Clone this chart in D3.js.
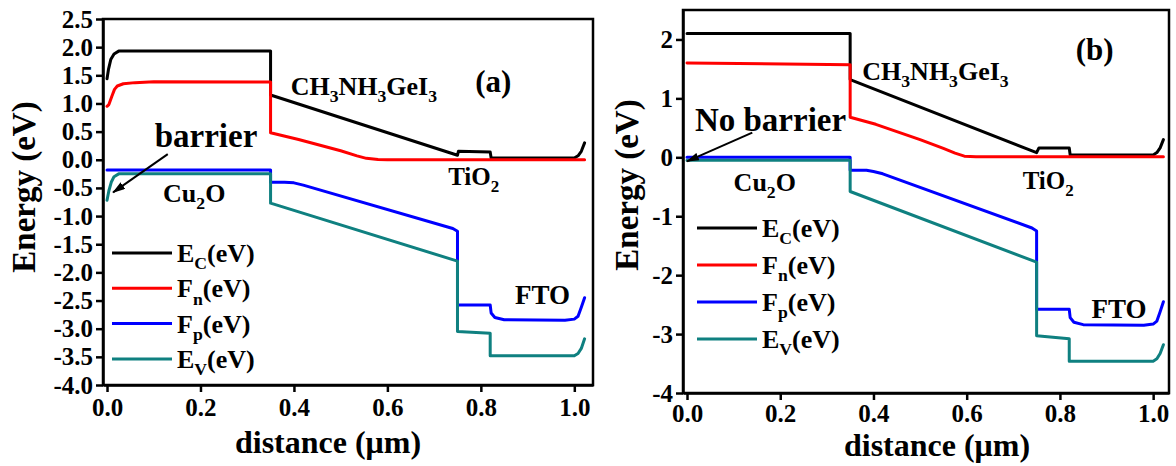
<!DOCTYPE html>
<html>
<head>
<meta charset="utf-8">
<script src="https://cdn.jsdelivr.net/npm/d3@7"></script>
<style>
  html, body { margin: 0; padding: 0; background: #fff; }
  svg text { font-family: "Liberation Serif", "Times New Roman", serif; font-weight: bold; fill: #000; }
  svg .tick text { font-size: 25px; }
</style>
</head>
<body>
<svg id="chart" width="1176" height="466"></svg>
<script>
// ---- Panel (a): Cu2O hole transport layer with barrier ----
const xEcA = [0, 0.003, 0.008, 0.015, 0.025, 0.35, 0.35, 0.75, 0.752, 0.82, 0.822, 1.0, 1.008, 1.015, 1.022];
const yEcA = [1.44, 1.6, 1.78, 1.88, 1.93, 1.93, 1.15, 0.08, 0.15, 0.14, 0.03, 0.03, 0.07, 0.15, 0.3];
const xFnA = [0, 0.004, 0.01, 0.016, 0.022, 0.035, 0.06, 0.1, 0.35, 0.35, 0.41, 0.5, 0.535, 0.555, 0.58, 0.6, 1.022];
const yFnA = [0.95, 0.98, 1.12, 1.25, 1.31, 1.35, 1.37, 1.385, 1.38, 0.48, 0.36, 0.16, 0.07, 0.025, 0.003, 0, 0];
const xFpA = [0, 0.35, 0.35, 0.38, 0.40, 0.42, 0.74, 0.75, 0.75, 0.82, 0.822, 0.83, 0.85, 0.98, 1.0, 1.008, 1.015, 1.022];
const yFpA = [-0.18, -0.18, -0.40, -0.40, -0.41, -0.45, -1.22, -1.27, -2.58, -2.58, -2.72, -2.8, -2.84, -2.85, -2.83, -2.78, -2.62, -2.45];
const xEvA = [0, 0.004, 0.009, 0.015, 0.025, 0.35, 0.35, 0.75, 0.75, 0.82, 0.82, 1.0, 1.008, 1.015, 1.022];
const yEvA = [-0.72, -0.55, -0.4, -0.3, -0.25, -0.25, -0.77, -1.8, -3.05, -3.08, -3.48, -3.48, -3.44, -3.35, -3.18];

// ---- Panel (b): no barrier ----
const xEcB = [0, 0.35, 0.35, 0.75, 0.755, 0.82, 0.822, 1.0, 1.008, 1.015, 1.022];
const yEcB = [2.1, 2.1, 1.32, 0.08, 0.16, 0.16, 0.04, 0.04, 0.08, 0.16, 0.3];
const xFnB = [0, 0.35, 0.35, 0.405, 0.5, 0.55, 0.575, 0.595, 0.62, 1.022];
const yFnB = [1.6, 1.57, 0.68, 0.56, 0.3, 0.15, 0.07, 0.02, 0.01, 0.01];
const xFpB = [0, 0.35, 0.35, 0.385, 0.40, 0.42, 0.74, 0.75, 0.75, 0.82, 0.822, 0.83, 0.85, 0.98, 1.0, 1.008, 1.015, 1.022];
const yFpB = [0, 0, -0.22, -0.22, -0.24, -0.28, -1.2, -1.25, -2.58, -2.58, -2.72, -2.8, -2.84, -2.85, -2.83, -2.78, -2.62, -2.45];
const xEvB = [0, 0.35, 0.35, 0.75, 0.75, 0.82, 0.82, 1.0, 1.008, 1.015, 1.022];
const yEvB = [-0.05, -0.05, -0.58, -1.78, -3.03, -3.08, -3.46, -3.46, -3.42, -3.33, -3.18];

// ---- Axes ----
const xTicks = [0, 0.2, 0.4, 0.6, 0.8, 1.0];
const yTicksA = [-4, -3.5, -3, -2.5, -2, -1.5, -1, -0.5, 0, 0.5, 1, 1.5, 2, 2.5];
const yTicksB = [-4, -3, -2, -1, 0, 1, 2];

// ---- Legend: [main letter, subscript] ----
const seriesNames = [["E", "C"], ["F", "n"], ["F", "p"], ["E", "V"]];
const seriesColors = ["#000000", "#ff0000", "#0000ff", "#0f8080"];

const svg = d3.select("#chart");
const FONT = "'Liberation Serif', 'Times New Roman', serif";

svg.append("defs").append("marker")
  .attr("id", "arrowhead")
  .attr("viewBox", "0 0 13 8")
  .attr("refX", 12).attr("refY", 4)
  .attr("markerWidth", 13).attr("markerHeight", 8)
  .attr("markerUnits", "userSpaceOnUse")
  .attr("orient", "auto")
  .append("path").attr("d", "M0,0 L13,4 L0,8 Z").attr("fill", "#000");

// text with subscripts: parts = [[text, isSub], ...]
function richText(g, x, y, parts, size) {
  const t = g.append("text").attr("x", x).attr("y", y).attr("font-size", size);
  const shift = size * 0.28;
  let low = false;
  parts.forEach(([s, sub]) => {
    const span = t.append("tspan").text(s);
    if (sub) {
      span.attr("font-size", size * 0.68);
      if (!low) span.attr("dy", shift);
      low = true;
    } else {
      if (low) span.attr("dy", -shift);
      low = false;
    }
  });
  return t;
}

function panel(cfg) {
  const g = svg.append("g");
  const x = d3.scaleLinear().domain(cfg.xDomain).range([cfg.left, cfg.right]);
  const y = d3.scaleLinear().domain([-4, 2.5]).range([cfg.bottom, cfg.top]);

  const line = d3.line().x(d => x(d[0])).y(d => y(d[1]));
  cfg.series.forEach((s, i) => {
    const pts = s[0].map((v, k) => [v, s[1][k]]);
    g.append("path").datum(pts)
      .attr("d", line)
      .attr("fill", "none")
      .attr("stroke", seriesColors[i])
      .attr("stroke-width", 3)
      .attr("stroke-linejoin", "round")
      .attr("stroke-linecap", "round");
  });

  // frame
  g.append("rect")
    .attr("x", cfg.left).attr("y", cfg.top)
    .attr("width", cfg.right - cfg.left).attr("height", cfg.bottom - cfg.top)
    .attr("fill", "none").attr("stroke", "#000").attr("stroke-width", 2.5);

  const xAxis = g.append("g").attr("transform", `translate(0,${cfg.bottom})`)
    .call(d3.axisBottom(x).tickValues(xTicks).tickSize(7).tickSizeOuter(0).tickPadding(cfg.xPad)
      .tickFormat(d => d.toFixed(1)));
  const yAxis = g.append("g").attr("transform", `translate(${cfg.left},0)`)
    .call(d3.axisLeft(y).tickValues(cfg.yTicks).tickSize(7).tickSizeOuter(0).tickPadding(3)
      .tickFormat(cfg.yFormat));
  [xAxis, yAxis].forEach(a => {
    a.attr("font-size", 25).attr("font-family", FONT).attr("font-weight", "bold");
    a.select(".domain").attr("stroke-width", 2.5);
    a.selectAll(".tick line").attr("stroke-width", 2.5);
    a.selectAll(".tick text").attr("fill", "#000").style("font-size", "25px");
  });

  g.append("text")
    .attr("transform", `translate(${cfg.yLabelX},${cfg.yLabelY}) rotate(-90)`)
    .attr("text-anchor", "middle")
    .attr("font-size", 33)
    .text("Energy (eV)");
  g.append("text")
    .attr("x", cfg.xLabelX).attr("y", cfg.xLabelY)
    .attr("text-anchor", "middle")
    .attr("font-size", 32)
    .text("distance (\u03bcm)");

  // legend
  seriesNames.forEach((n, i) => {
    const ly = cfg.legendY + i * cfg.legendStep;
    g.append("line")
      .attr("x1", cfg.legendX).attr("x2", cfg.legendX + 60)
      .attr("y1", ly).attr("y2", ly)
      .attr("stroke", seriesColors[i]).attr("stroke-width", 3);
    richText(g, cfg.legendX + 65, ly + 9, [[n[0]], [n[1], true], ["(eV)"]], 26);
  });

  // layer labels
  richText(g, x(cfg.perovskite[0]), y(cfg.perovskite[1]),
    [["CH"], ["3", true], ["NH"], ["3", true], ["GeI"], ["3", true]], 26);
  richText(g, x(cfg.cu2o[0]), y(cfg.cu2o[1]), [["Cu"], ["2", true], ["O"]], 26);
  richText(g, x(cfg.tio2[0]), y(cfg.tio2[1]), [["TiO"], ["2", true]], 25);
  g.append("text").attr("x", x(cfg.fto[0])).attr("y", y(cfg.fto[1])).attr("font-size", 27).text("FTO");
  g.append("text").attr("x", x(cfg.tag[0])).attr("y", y(cfg.tag[1])).attr("font-size", 31).text(cfg.tagText);

  // barrier note with arrow
  g.append("text").attr("x", x(cfg.note[0])).attr("y", y(cfg.note[1]))
    .attr("font-size", 33).text(cfg.noteText);
  g.append("line")
    .attr("x1", x(cfg.arrow[0])).attr("y1", y(cfg.arrow[1]))
    .attr("x2", x(cfg.arrow[2])).attr("y2", y(cfg.arrow[3]))
    .attr("stroke", "#000").attr("stroke-width", 2)
    .attr("marker-end", "url(#arrowhead)");
}

panel({
  left: 103, right: 593, top: 19, bottom: 385, xPad: 6,
  xDomain: [-0.0086, 1.04],
  yTicks: yTicksA, yFormat: d => d.toFixed(1),
  series: [[xEcA, yEcA], [xFnA, yFnA], [xFpA, yFpA], [xEvA, yEvA]],
  yLabelX: 35, yLabelY: 187, xLabelX: 328, xLabelY: 453,
  legendX: 112, legendY: 253, legendStep: 35.3,
  perovskite: [0.393, 1.15], cu2o: [0.12, -0.75], tio2: [0.73, -0.45], fto: [0.873, -2.57],
  tag: [0.788, 1.2], tagText: "(a)",
  note: [0.102, 0.22], noteText: "barrier",
  arrow: [0.13, 0.1, 0.013, -0.58]
});

panel({
  left: 683, right: 1169, top: 10, bottom: 393, xPad: 4,
  xDomain: [-0.0086, 1.034],
  yTicks: yTicksB, yFormat: d => d3.format("d")(d).replace("\u2212", "-"),
  series: [[xEcB, yEcB], [xFnB, yFnB], [xFpB, yFpB], [xEvB, yEvB]],
  yLabelX: 638, yLabelY: 185, xLabelX: 937, xLabelY: 456,
  legendX: 697, legendY: 228, legendStep: 37,
  perovskite: [0.376, 1.32], cu2o: [0.1, -0.57], tio2: [0.72, -0.54], fto: [0.868, -2.72],
  tag: [0.834, 1.65], tagText: "(b)",
  note: [0.017, 0.45], noteText: "No barrier",
  arrow: [0.14, 0.42, 0.0, -0.07]
});
</script>
</body>
</html>
